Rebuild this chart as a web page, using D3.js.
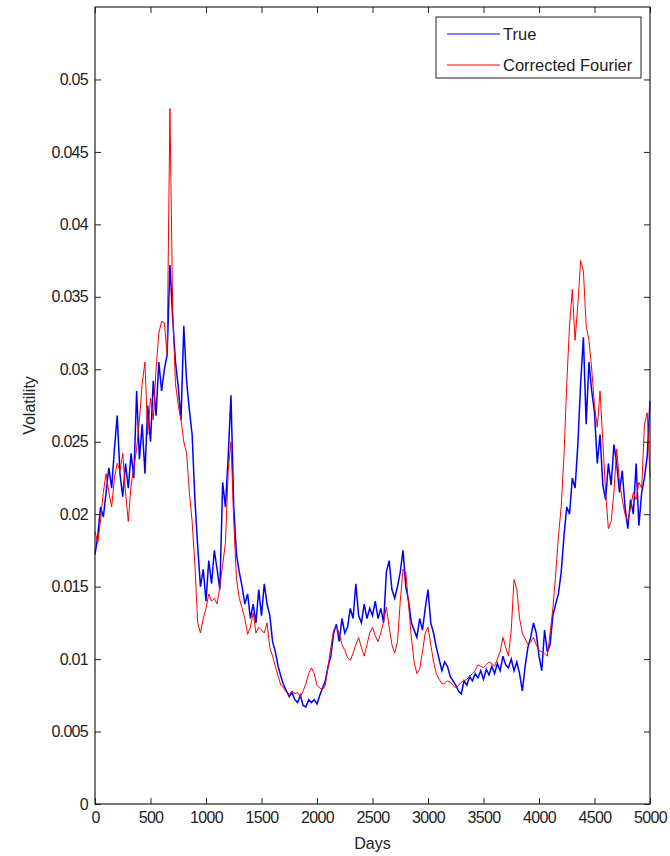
<!DOCTYPE html>
<html>
<head>
<meta charset="utf-8">
<script src="https://cdn.jsdelivr.net/npm/d3@7"></script>
<style>
  body { margin: 0; background: #fff; }
  svg text { font-family: "Liberation Sans", Arial, sans-serif; fill: #222; }
</style>
</head>
<body>
<div id="chart"></div>
<script>
// sampled every 25 days, 0..5000
const step = 25;
const trueVol = [
  0.0172,0.0185,0.0205,0.0198,0.0215,0.0232,0.0218,0.0245,0.0268,0.0228,
  0.0212,0.0235,0.0218,0.0242,0.0225,0.0285,0.0238,0.0262,0.0228,0.0275,
  0.0250,0.0292,0.0268,0.0305,0.0285,0.0300,0.0310,0.0372,0.0335,0.0305,
  0.0288,0.0265,0.0330,0.0292,0.0272,0.0255,0.0210,0.0178,0.0150,0.0162,
  0.0140,0.0168,0.0152,0.0175,0.0162,0.0148,0.0222,0.0205,0.0240,0.0282,
  0.0205,0.0172,0.0160,0.0150,0.0138,0.0145,0.0128,0.0138,0.0125,0.0148,
  0.0130,0.0152,0.0138,0.0130,0.0112,0.0105,0.0095,0.0088,0.0082,0.0078,
  0.0074,0.0077,0.0072,0.0070,0.0075,0.0068,0.0067,0.0072,0.0070,0.0072,
  0.0069,0.0075,0.0080,0.0085,0.0095,0.0102,0.0118,0.0124,0.0112,0.0128,
  0.0118,0.0122,0.0135,0.0128,0.0152,0.0130,0.0125,0.0138,0.0128,0.0135,
  0.0130,0.0140,0.0128,0.0135,0.0125,0.0160,0.0168,0.0148,0.0142,0.0150,
  0.0160,0.0175,0.0150,0.0140,0.0125,0.0120,0.0115,0.0128,0.0120,0.0135,
  0.0148,0.0125,0.0118,0.0108,0.0100,0.0092,0.0098,0.0095,0.0088,0.0085,
  0.0082,0.0078,0.0076,0.0085,0.0082,0.0088,0.0085,0.0090,0.0087,0.0092,
  0.0086,0.0093,0.0089,0.0095,0.0090,0.0097,0.0092,0.0102,0.0096,0.0094,
  0.0100,0.0092,0.0098,0.0090,0.0078,0.0095,0.0108,0.0115,0.0125,0.0118,
  0.0102,0.0092,0.0120,0.0105,0.0110,0.0130,0.0138,0.0145,0.0160,0.0185,
  0.0205,0.0200,0.0225,0.0218,0.0248,0.0290,0.0322,0.0262,0.0305,0.0285,
  0.0270,0.0235,0.0255,0.0220,0.0210,0.0235,0.0220,0.0248,0.0235,0.0215,
  0.0230,0.0205,0.0190,0.0210,0.0200,0.0235,0.0192,0.0215,0.0225,0.0240,
  0.0278
];
const fourierVol = [
  0.0188,0.0180,0.0196,0.0215,0.0228,0.0215,0.0205,0.0225,0.0235,0.0230,
  0.0242,0.0215,0.0195,0.0220,0.0232,0.0245,0.0265,0.0290,0.0305,0.0255,
  0.0280,0.0265,0.0300,0.0325,0.0333,0.0332,0.0310,0.0480,0.0340,0.0290,
  0.0275,0.0265,0.0250,0.0242,0.0215,0.0195,0.0165,0.0125,0.0118,0.0128,
  0.0135,0.0145,0.0140,0.0142,0.0138,0.0150,0.0165,0.0180,0.0230,0.0250,
  0.0195,0.0155,0.0142,0.0135,0.0128,0.0117,0.0122,0.0132,0.0118,0.0122,
  0.0120,0.0118,0.0125,0.0108,0.0102,0.0095,0.0088,0.0082,0.0080,0.0077,
  0.0076,0.0078,0.0076,0.0077,0.0074,0.0078,0.0083,0.0090,0.0094,0.0090,
  0.0082,0.0080,0.0079,0.0082,0.0095,0.0108,0.0120,0.0122,0.0118,0.0110,
  0.0106,0.0101,0.0099,0.0104,0.0110,0.0115,0.0108,0.0102,0.0110,0.0118,
  0.0122,0.0116,0.0112,0.0118,0.0126,0.0136,0.0122,0.0110,0.0104,0.0112,
  0.0140,0.0162,0.0160,0.0138,0.0115,0.0098,0.0090,0.0093,0.0105,0.0118,
  0.0122,0.0110,0.0098,0.0090,0.0086,0.0083,0.0083,0.0085,0.0084,0.0082,
  0.0080,0.0082,0.0084,0.0085,0.0086,0.0088,0.0090,0.0092,0.0096,0.0095,
  0.0094,0.0096,0.0098,0.0097,0.0095,0.0100,0.0105,0.0115,0.0108,0.0102,
  0.0120,0.0155,0.0148,0.0128,0.0118,0.0114,0.0110,0.0112,0.0115,0.0110,
  0.0106,0.0105,0.0104,0.0102,0.0118,0.0135,0.0158,0.0185,0.0205,0.0240,
  0.0290,0.0330,0.0355,0.0320,0.0345,0.0375,0.0368,0.0330,0.0320,0.0300,
  0.0275,0.0260,0.0285,0.0250,0.0215,0.0190,0.0195,0.0215,0.0245,0.0222,
  0.0210,0.0200,0.0195,0.0205,0.0215,0.0210,0.0222,0.0218,0.0262,0.0270,
  0.0225
];
const xTicks = [0, 500, 1000, 1500, 2000, 2500, 3000, 3500, 4000, 4500, 5000];
const xTickLabels = ["0", "500", "1000", "1500", "2000", "2500", "3000", "3500", "4000", "4500", "5000"];
const yTicks = [0, 0.005, 0.01, 0.015, 0.02, 0.025, 0.03, 0.035, 0.04, 0.045, 0.05];
const yTickLabels = ["0", "0.005", "0.01", "0.015", "0.02", "0.025", "0.03", "0.035", "0.04", "0.045", "0.05"];
const seriesNames = ["True", "Corrected Fourier"];
const seriesColors = ["#0000ff", "#ff0000"];

const W = 670, H = 856;
const plot = { left: 95, right: 650, top: 7, bottom: 804 };

const svg = d3.select("#chart").append("svg")
  .attr("width", W).attr("height", H);

const x = d3.scaleLinear().domain([0, 5000]).range([plot.left, plot.right]);
const y = d3.scaleLinear().domain([0, 0.055]).range([plot.bottom, plot.top]);

// lines
const line = d3.line()
  .x((d, i) => x(i * step))
  .y(d => y(d));

svg.append("path").datum(trueVol)
  .attr("fill", "none").attr("stroke", seriesColors[0]).attr("stroke-width", 1.5)
  .attr("d", line);
svg.append("path").datum(fourierVol)
  .attr("fill", "none").attr("stroke", seriesColors[1]).attr("stroke-width", 1)
  .attr("d", line);

// axes, ticks pointing inward on all four sides
const tick = 6;
const xb = svg.append("g").attr("transform", `translate(0,${plot.bottom})`)
  .call(d3.axisBottom(x).tickValues(xTicks).tickSizeInner(-tick).tickSizeOuter(0).tickPadding(8)
    .tickFormat((d, i) => xTickLabels[i]));
const xt = svg.append("g").attr("transform", `translate(0,${plot.top})`)
  .call(d3.axisTop(x).tickValues(xTicks).tickSizeInner(-tick).tickSizeOuter(0).tickFormat(""));
const yl = svg.append("g").attr("transform", `translate(${plot.left},0)`)
  .call(d3.axisLeft(y).tickValues(yTicks).tickSizeInner(-tick).tickSizeOuter(0).tickPadding(7)
    .tickFormat((d, i) => yTickLabels[i]));
const yr = svg.append("g").attr("transform", `translate(${plot.right},0)`)
  .call(d3.axisRight(y).tickValues(yTicks).tickSizeInner(-tick).tickSizeOuter(0).tickFormat(""));

[xb, xt, yl, yr].forEach(g => {
  g.select(".domain").remove();
  g.selectAll("line").attr("stroke", "#222");
  g.selectAll("text").attr("font-size", 16).attr("fill", "#222")
    .attr("letter-spacing", "-0.7px")
    .style("font-family", "'Liberation Sans', Arial, sans-serif");
});

svg.append("rect")
  .attr("x", plot.left).attr("y", plot.top)
  .attr("width", plot.right - plot.left).attr("height", plot.bottom - plot.top)
  .attr("fill", "none").attr("stroke", "#222").attr("stroke-width", 1.2);

// axis labels
svg.append("text")
  .attr("x", (plot.left + plot.right) / 2).attr("y", 849)
  .attr("text-anchor", "middle").attr("font-size", 16)
  .text("Days");
svg.append("text")
  .attr("transform", `translate(35,${(plot.top + plot.bottom) / 2}) rotate(-90)`)
  .attr("text-anchor", "middle").attr("font-size", 16)
  .text("Volatility");

// legend
const lg = svg.append("g");
lg.append("rect")
  .attr("x", 436).attr("y", 17).attr("width", 205).attr("height", 61)
  .attr("fill", "#fff").attr("stroke", "#222").attr("stroke-width", 1);
seriesNames.forEach((name, i) => {
  const ly = 34 + i * 31;
  lg.append("line")
    .attr("x1", 447).attr("x2", 500).attr("y1", ly).attr("y2", ly)
    .attr("stroke", seriesColors[i]).attr("stroke-width", 1);
  lg.append("text")
    .attr("x", 503).attr("y", ly + 6).attr("font-size", 16.5)
    .text(name);
});
</script>
</body>
</html>
